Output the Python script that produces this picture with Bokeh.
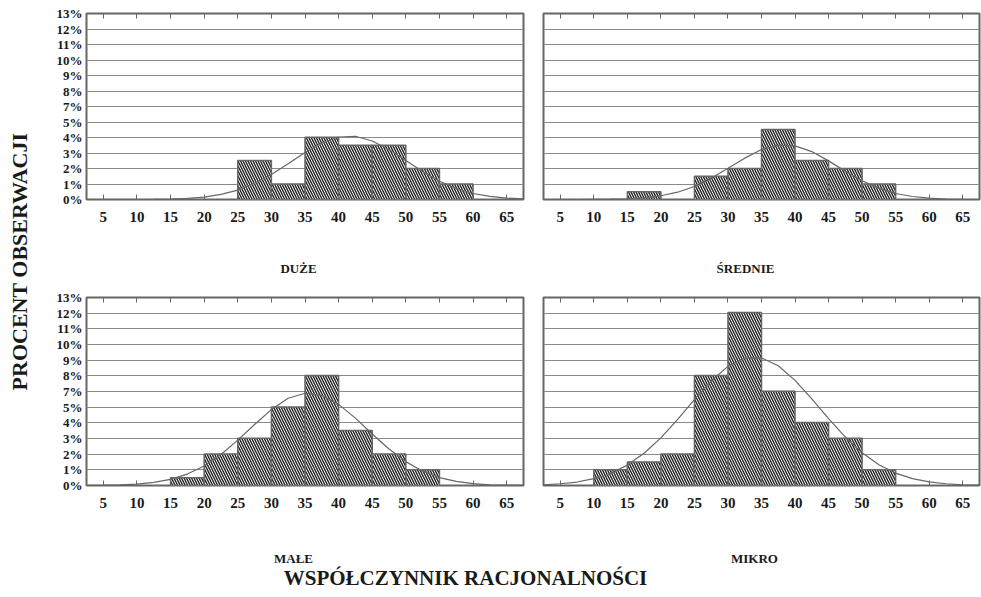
import math
from bokeh.plotting import figure
from bokeh.layouts import row, column
from bokeh.models import Range1d, FixedTicker, LinearAxis, Label, CustomLabelingPolicy
from bokeh.embed import file_html
from bokeh.resources import INLINE

# ---------------- data ----------------
X_TICKS = [5, 10, 15, 20, 25, 30, 35, 40, 45, 50, 55, 60, 65]
Y_TICK_LABELS = ["0%", "1%", "2%", "3%", "4%", "5%", "7%", "8%", "9%", "10%", "11%", "12%", "13%"]
Y_MAX = 13
BIN_WIDTH = 5

CURVE_X = [2.5, 5, 7.5, 10, 12.5, 15, 17.5, 20, 22.5, 25, 27.5, 30, 32.5, 35,
           37.5, 40, 42.5, 45, 47.5, 50, 52.5, 55, 57.5, 60, 62.5, 65, 67.5]

duze_left = [25, 30, 35, 40, 45, 50, 55]
duze_pct = [2.72, 1.09, 4.35, 3.80, 3.80, 2.17, 1.09]
duze_curve = [0, 0, 0, 0.00, 0.01, 0.03, 0.08, 0.17, 0.36, 0.66, 1.13, 1.75, 2.50, 3.28,
              3.95, 4.37, 4.42, 4.09, 3.49, 2.73, 1.95, 1.28, 0.77, 0.42, 0.22, 0.10, 0.04]

srednie_left = [15, 25, 30, 35, 40, 45, 50]
srednie_pct = [0.54, 1.63, 2.17, 4.89, 2.72, 2.17, 1.09]
srednie_curve = [0, 0, 0, 0.01, 0.02, 0.04, 0.12, 0.26, 0.51, 0.91, 1.48, 2.18, 2.89, 3.49,
                 3.80, 3.75, 3.35, 2.70, 1.97, 1.31, 0.78, 0.42, 0.21, 0.09, 0.03, 0.01, 0]

male_left = [15, 20, 25, 30, 35, 40, 45, 50]
male_pct = [0.54, 2.17, 3.26, 5.43, 7.61, 3.80, 2.17, 1.09]
male_curve = [0.01, 0.02, 0.04, 0.10, 0.21, 0.42, 0.79, 1.35, 2.14, 3.14, 4.22, 5.25, 6.03, 6.38,
              6.23, 5.61, 4.66, 3.56, 2.52, 1.65, 0.99, 0.55, 0.28, 0.13, 0.05, 0.02, 0.01]

mikro_left = [10, 15, 20, 25, 30, 35, 40, 45, 50]
mikro_pct = [1.09, 1.63, 2.17, 7.61, 11.96, 6.52, 4.35, 3.26, 1.09]
mikro_curve = [0.05, 0.12, 0.24, 0.47, 0.83, 1.41, 2.23, 3.29, 4.57, 5.94, 7.23, 8.24, 8.81, 8.82,
               8.28, 7.27, 5.99, 4.63, 3.35, 2.26, 1.44, 0.86, 0.48, 0.25, 0.12, 0.05, 0.02]

# ---------------- style ----------------
FONT = "Liberation Serif"
TXT = "#1a1a1a"
GRID = "#8a8a8a"
FRAME = "#666666"
CURVE = "#666666"

Y_TICKS = [Y_MAX * k / (len(Y_TICK_LABELS) - 1) for k in range(len(Y_TICK_LABELS))]


def panel(width, height, mbl, mbr, mbt, mbb, lefts, vals, curve, ylabels):
    p = figure(width=width, height=height, x_range=Range1d(2.5, 67.5), y_range=Range1d(0, Y_MAX),
               output_backend="svg", toolbar_location=None,
               min_border_left=mbl, min_border_right=mbr, min_border_top=mbt, min_border_bottom=mbb)
    p.background_fill_color = "white"
    p.border_fill_color = "white"
    p.outline_line_color = FRAME
    p.outline_line_width = 2

    xa = p.xaxis[0]
    xa.ticker = FixedTicker(ticks=X_TICKS)
    xa.major_label_text_font = FONT
    xa.major_label_text_font_style = "bold"
    xa.major_label_text_font_size = "15px"
    xa.major_label_text_color = TXT
    xa.major_tick_in = 5
    xa.major_tick_out = 0
    xa.minor_tick_in = 0
    xa.minor_tick_out = 0
    xa.major_tick_line_color = FRAME
    xa.axis_line_color = None
    xa.major_label_standoff = 12

    ta = LinearAxis(ticker=FixedTicker(ticks=X_TICKS),
                    major_label_policy=CustomLabelingPolicy(code="return []"),
                    major_tick_in=5, major_tick_out=0, minor_tick_in=0, minor_tick_out=0,
                    major_tick_line_color=FRAME, axis_line_color=None, major_label_standoff=0)
    p.add_layout(ta, "above")

    ya = p.yaxis[0]
    ya.ticker = FixedTicker(ticks=Y_TICKS)
    ya.major_label_overrides = {t: lab for t, lab in zip(Y_TICKS, Y_TICK_LABELS)}
    ya.major_label_text_font = FONT
    ya.major_label_text_font_style = "bold"
    ya.major_label_text_font_size = "13px"
    ya.major_label_text_color = TXT
    ya.major_tick_in = 0
    ya.major_tick_out = 0
    ya.minor_tick_in = 0
    ya.minor_tick_out = 0
    ya.axis_line_color = None
    ya.major_label_standoff = 4
    if not ylabels:
        ya.visible = False

    p.xgrid.visible = False
    p.ygrid.ticker = FixedTicker(ticks=Y_TICKS)
    p.ygrid.grid_line_color = GRID
    p.ygrid.grid_line_width = 1

    rights = [l + BIN_WIDTH for l in lefts]
    p.quad(left=lefts, right=rights, bottom=0, top=vals, fill_color="white",
           line_color=FRAME, line_width=1.5, hatch_pattern="left_diagonal_line",
           hatch_color="#1e1e1e", hatch_scale=5, hatch_weight=1.4)
    p.line(CURVE_X, curve, line_color=CURVE, line_width=1.2)
    return p


def strip(width, height):
    p = figure(width=width, height=height, x_range=Range1d(0, 1), y_range=Range1d(0, 1),
               output_backend="svg", toolbar_location=None,
               x_axis_location=None, y_axis_location=None,
               min_border_left=0, min_border_right=0, min_border_top=0, min_border_bottom=0)
    p.xgrid.visible = False
    p.ygrid.visible = False
    p.outline_line_color = None
    p.background_fill_color = "white"
    p.border_fill_color = "white"
    return p


def label(p, x, y, text, size, angle=0.0):
    p.add_layout(Label(x=x, y=y, x_units="canvas", y_units="canvas", text=text, angle=angle,
                       text_font=FONT, text_font_style="bold", text_font_size=size,
                       text_color=TXT, text_align="center", text_baseline="middle"))


f1 = panel(495, 235, 48, 10, 13, 36, duze_left, duze_pct, duze_curve, True)
f2 = panel(448, 235, 10, 2, 13, 36, srednie_left, srednie_pct, srednie_curve, False)
f3 = panel(495, 240, 48, 10, 12, 40, male_left, male_pct, male_curve, True)
f4 = panel(448, 240, 10, 2, 12, 40, mikro_left, mikro_pct, mikro_curve, False)

t1 = strip(943, 50)
label(t1, 260, 33, "DUŻE", "13px")
label(t1, 707, 33, "ŚREDNIE", "13px")

t2 = strip(943, 72)
label(t2, 255, 33, "MAŁE", "13px")
label(t2, 716, 33, "MIKRO", "13px")
label(t2, 427, 52.5, "WSPÓŁCZYNNIK RACJONALNOŚCI", "21px")

ys = strip(38, 597)
label(ys, 19, 261, "PROCENT OBSERWACJI", "22px", math.pi / 2)

layout = row(ys, column(row(f1, f2), t1, row(f3, f4), t2))

open("out.html", "w").write(file_html(layout, INLINE))
